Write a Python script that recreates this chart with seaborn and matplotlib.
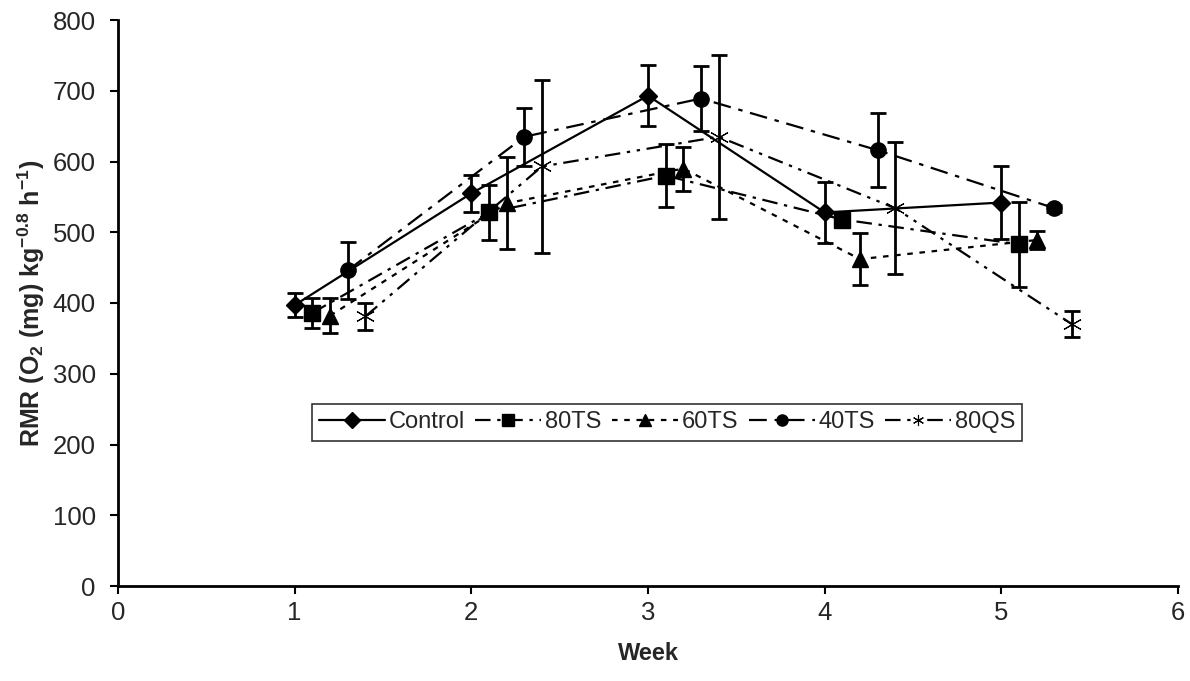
import matplotlib
matplotlib.use("Agg")
import matplotlib.pyplot as plt
import seaborn as sns
import pandas as pd
import numpy as np

groups = ["Control", "80TS", "60TS", "40TS", "80QS"]
weeks = [1, 2, 3, 4, 5]
offsets = [0.0, 0.1, 0.2, 0.3, 0.4]
control = [397, 555, 693, 528, 542]
ts80 = [386, 528, 580, 518, 483]
ts60 = [382, 541, 590, 462, 489]
ts40 = [446, 635, 689, 616, 534]
qs80 = [381, 593, 635, 534, 370]
control_err = [17, 26, 43, 43, 51]
ts80_err = [21, 39, 45, 8, 60]
ts60_err = [25, 65, 31, 37, 13]
ts40_err = [40, 41, 46, 52, 5]
qs80_err = [19, 122, 116, 93, 18]

values = [control, ts80, ts60, ts40, qs80]
errors = [control_err, ts80_err, ts60_err, ts40_err, qs80_err]

rows = []
for g, off, vals, errs in zip(groups, offsets, values, errors):
    for w, v, e in zip(weeks, vals, errs):
        rows.append({"group": g, "week": w + off, "rmr": v, "err": e})
df = pd.DataFrame(rows)

sns.set_theme(style="white")
plt.rcParams["font.family"] = ["Liberation Sans", "DejaVu Sans"]
plt.rcParams["mathtext.fontset"] = "custom"
plt.rcParams["mathtext.rm"] = "Liberation Sans:bold"
plt.rcParams["mathtext.bf"] = "Liberation Sans:bold"
plt.rcParams["mathtext.it"] = "Liberation Sans:bold"
plt.rcParams["mathtext.default"] = "bf"

fig = plt.figure(figsize=(11.9, 6.81), dpi=100)
ax = fig.add_axes([118/1190, 1 - 586/681, 1060/1190, 566/681])

dashes = {
    "Control": "-",
    "80TS": (0, (7, 3, 1.5, 3)),
    "60TS": (0, (2.5, 3)),
    "40TS": (0, (8, 3.5, 2, 3.5)),
    "80QS": (0, (7, 3, 1.5, 3, 1.5, 3)),
}
markers = {"Control": "D", "80TS": "s", "60TS": "^", "40TS": "o", "80QS": (6, 2, 0)}
msizes = {"Control": 9, "80TS": 11, "60TS": 11, "40TS": 11, "80QS": 14}

for g in groups:
    sub = df[df.group == g]
    ax.errorbar(sub.week, sub.rmr, yerr=sub.err, fmt="none", ecolor="black",
                elinewidth=2, capsize=6, capthick=2, zorder=2)
    sns.lineplot(data=sub, x="week", y="rmr", color="black", linewidth=1.6,
                 linestyle=dashes[g], marker=markers[g], markersize=msizes[g],
                 markeredgecolor="black", markerfacecolor="black",
                 markeredgewidth=1 if g != "80QS" else 0.8,
                 label=g, ax=ax, zorder=3)

ax.set_xlim(0, 6)
ax.set_ylim(0, 800)
ax.set_xticks(range(0, 7))
ax.set_yticks(range(0, 801, 100))
ax.tick_params(axis="both", labelsize=18.5, direction="out", length=6, width=1.5,
               color="black", left=True, bottom=True)
ax.tick_params(axis="y", pad=10)
ax.tick_params(axis="x", pad=5)
for s in ["top", "right"]:
    ax.spines[s].set_visible(False)
for s in ["left", "bottom"]:
    ax.spines[s].set_color("black")
    ax.spines[s].set_linewidth(2)

ax.set_xlabel("Week", fontsize=17, fontweight="bold", labelpad=12)
ax.set_ylabel(r"RMR (O$_2$ (mg) kg$^{-0.8}$ h$^{-1}$)", fontsize=18,
              fontweight="bold", labelpad=4)

handles, labels = ax.get_legend_handles_labels()
leg = ax.legend(handles, labels, ncol=5, loc="center",
                bbox_to_anchor=(0.518, 0.289), fontsize=17, frameon=True,
                fancybox=False, edgecolor="black", handlelength=2.8,
                handletextpad=0.15, columnspacing=0.45, borderpad=0.3)
leg.get_frame().set_linewidth(1.2)
for h in leg.legend_handles:
    h.set_markersize(8)

fig.savefig("out.png", dpi=100, facecolor="white")
